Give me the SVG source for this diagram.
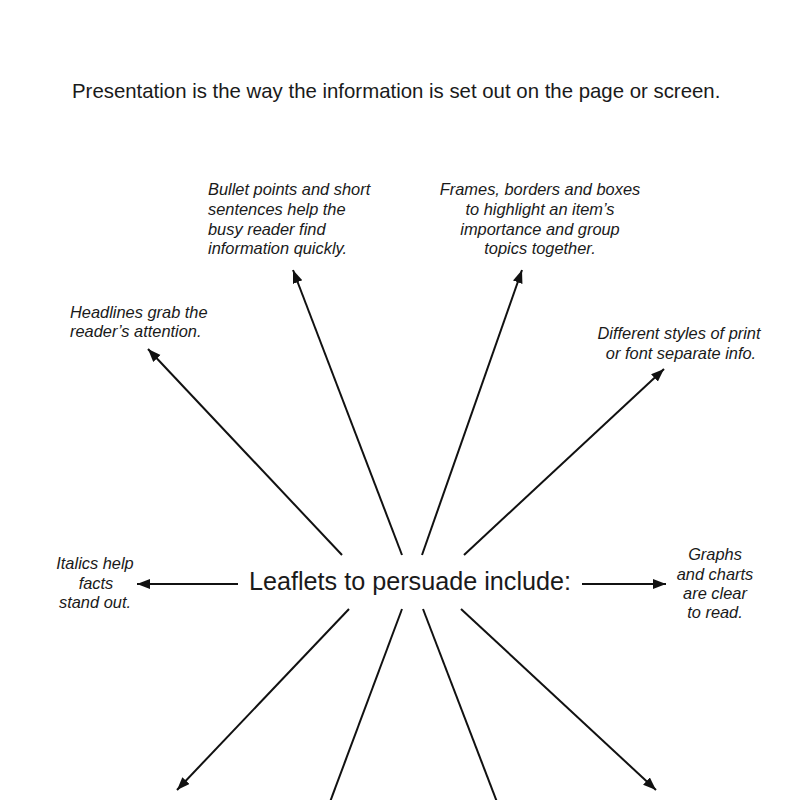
<svg xmlns="http://www.w3.org/2000/svg" width="800" height="800" viewBox="0 0 800 800">
<style>
text{font-family:"Liberation Sans",Arial,sans-serif;fill:#1a1a1a}
.lbl{font-size:16.4px;font-style:italic}
.c{text-anchor:middle}
.title{font-size:20.4px}
.main{font-size:25.2px}
.ln{stroke:#111;stroke-width:2;fill:none}
</style>
<defs>
<marker id="ah" markerUnits="userSpaceOnUse" markerWidth="14" markerHeight="12" refX="13" refY="5" orient="auto">
<path d="M0,0 L13,5 L0,10 Z" fill="#111"/>
</marker>
</defs>
<rect width="800" height="800" fill="#fff"/>
<text class="title" x="72" y="98">Presentation is the way the information is set out on the page or screen.</text>
<g id="center"><text class="main c" x="410" y="590">Leaflets to persuade include:</text></g>
<g id="bullet"><text class="lbl"><tspan x="208" y="195">Bullet points and short</tspan><tspan x="208" y="215">sentences help the</tspan><tspan x="208" y="235">busy reader find</tspan><tspan x="208" y="254">information quickly.</tspan></text></g>
<g id="frames"><text class="lbl c"><tspan x="540" y="195">Frames, borders and boxes</tspan><tspan x="540" y="215">to highlight an item’s</tspan><tspan x="540" y="235">importance and group</tspan><tspan x="540" y="254">topics together.</tspan></text></g>
<g id="headlines"><text class="lbl"><tspan x="70" y="318">Headlines grab the</tspan><tspan x="70" y="337">reader’s attention.</tspan></text></g>
<g id="styles"><text class="lbl c"><tspan x="679" y="339">Different styles of print</tspan><tspan x="681" y="359">or font separate info.</tspan></text></g>
<g id="italics"><text class="lbl c"><tspan x="95" y="569">Italics help</tspan><tspan x="96" y="589">facts</tspan><tspan x="95" y="608">stand out.</tspan></text></g>
<g id="graphs"><text class="lbl c"><tspan x="715" y="560">Graphs</tspan><tspan x="715" y="580">and charts</tspan><tspan x="715" y="599">are clear</tspan><tspan x="715" y="618">to read.</tspan></text></g>
<g id="connectors">
<line class="ln" x1="342" y1="555" x2="148" y2="349" marker-end="url(#ah)"/>
<line class="ln" x1="402" y1="555" x2="293" y2="270" marker-end="url(#ah)"/>
<line class="ln" x1="422" y1="555" x2="522" y2="270" marker-end="url(#ah)"/>
<line class="ln" x1="464" y1="555" x2="664" y2="369" marker-end="url(#ah)"/>
<line class="ln" x1="238" y1="584" x2="137" y2="584" marker-end="url(#ah)"/>
<line class="ln" x1="582" y1="584" x2="666" y2="584" marker-end="url(#ah)"/>
<line class="ln" x1="349" y1="609" x2="177" y2="790" marker-end="url(#ah)"/>
<line class="ln" x1="402" y1="609" x2="330" y2="802"/>
<line class="ln" x1="423" y1="609" x2="497" y2="802"/>
<line class="ln" x1="461" y1="609" x2="656" y2="790" marker-end="url(#ah)"/>
</g>
</svg>
